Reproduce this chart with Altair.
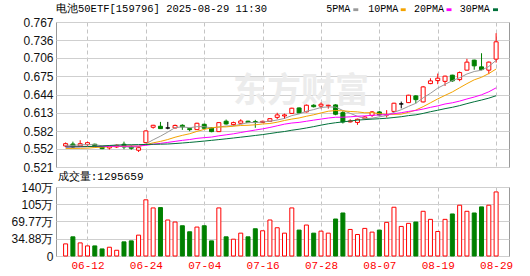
import json
import numpy as np
import pandas as pd
import altair as alt

TITLE = "电池50ETF[159796] 2025-08-29 11:30"
VOL_TITLE = "成交量:1295659"
WATERMARK = "东方财富"

DATES = ["06-09", "06-10", "06-11", "06-12", "06-13", "06-16", "06-17", "06-18", "06-19", "06-20",
         "06-23", "06-24", "06-25", "06-26", "06-27", "06-30", "07-01", "07-02", "07-03", "07-04",
         "07-07", "07-08", "07-09", "07-10", "07-11", "07-14", "07-15", "07-16", "07-17", "07-18",
         "07-21", "07-22", "07-23", "07-24", "07-25", "07-28", "07-29", "07-30", "07-31", "08-01",
         "08-04", "08-05", "08-06", "08-07", "08-08", "08-11", "08-12", "08-13", "08-14", "08-15",
         "08-18", "08-19", "08-20", "08-21", "08-22", "08-25", "08-26", "08-27", "08-28", "08-29"]

OPEN = [0.5567, 0.5600, 0.5567, 0.5589, 0.5596, 0.5550, 0.5533, 0.5550, 0.5596, 0.5550,
        0.5494, 0.5623, 0.5884, 0.5901, 0.5872, 0.5872, 0.5918, 0.5861, 0.5844, 0.5935,
        0.5878, 0.5810, 0.5987, 0.5929, 0.5952, 0.5987, 0.5980, 0.5965, 0.5986, 0.6052,
        0.6076, 0.6119, 0.6212, 0.6145, 0.6258, 0.6243, 0.6246, 0.6263, 0.6132, 0.5975,
        0.5966, 0.6034, 0.6085, 0.6144, 0.6090, 0.6153, 0.6280, 0.6302, 0.6416, 0.6314,
        0.6625, 0.6676, 0.6663, 0.6768, 0.6693, 0.6853, 0.7023, 0.6909, 0.6853, 0.7040]
HIGH = [0.5626, 0.5640, 0.5664, 0.5640, 0.5606, 0.5558, 0.5575, 0.5592, 0.5640, 0.5579,
        0.5562, 0.5830, 0.5925, 0.5975, 0.5975, 0.5930, 0.5935, 0.5878, 0.5960, 0.5945,
        0.5885, 0.5970, 0.6015, 0.5980, 0.6020, 0.5995, 0.6010, 0.5995, 0.6040, 0.6130,
        0.6115, 0.6215, 0.6220, 0.6270, 0.6275, 0.6305, 0.6265, 0.6275, 0.6158, 0.6020,
        0.6030, 0.6075, 0.6160, 0.6160, 0.6175, 0.6300, 0.6320, 0.6435, 0.6430, 0.6585,
        0.6715, 0.6795, 0.6760, 0.6775, 0.6830, 0.7045, 0.7030, 0.7140, 0.7000, 0.7480]
LOW = [0.5550, 0.5530, 0.5558, 0.5572, 0.5547, 0.5513, 0.5507, 0.5533, 0.5511, 0.5503,
       0.5465, 0.5620, 0.5861, 0.5855, 0.5850, 0.5865, 0.5840, 0.5817, 0.5840, 0.5860,
       0.5800, 0.5805, 0.5930, 0.5910, 0.5945, 0.5955, 0.5875, 0.5955, 0.5980, 0.6020,
       0.6025, 0.6110, 0.6120, 0.6135, 0.6220, 0.6200, 0.6200, 0.6088, 0.5948, 0.5965,
       0.5925, 0.6010, 0.6060, 0.6090, 0.6050, 0.6150, 0.6205, 0.6295, 0.6290, 0.6305,
       0.6615, 0.6615, 0.6585, 0.6655, 0.6665, 0.6850, 0.6860, 0.6850, 0.6785, 0.6980]
CLOSE = [0.5606, 0.5550, 0.5606, 0.5623, 0.5555, 0.5521, 0.5567, 0.5579, 0.5550, 0.5528,
         0.5538, 0.5822, 0.5918, 0.5861, 0.5872, 0.5915, 0.5890, 0.5844, 0.5952, 0.5867,
         0.5810, 0.5963, 0.5940, 0.5963, 0.5991, 0.5963, 0.5965, 0.5985, 0.6030, 0.6094,
         0.6094, 0.6207, 0.6127, 0.6258, 0.6233, 0.6275, 0.6258, 0.6105, 0.5975, 0.5991,
         0.6020, 0.6059, 0.6144, 0.6093, 0.6100, 0.6292, 0.6280, 0.6428, 0.6353, 0.6569,
         0.6671, 0.6717, 0.6751, 0.6671, 0.6812, 0.6989, 0.6926, 0.6863, 0.6989, 0.7334]
# volume in 万
VOLUME = [24.5, 38.8, 26.5, 20.4, 20.4, 14.3, 17.7, 11.6, 28.6, 30.6,
          42.2, 113.6, 97.2, 97.9, 72.8, 68.7, 61.2, 49.0, 58.5, 61.2,
          30.6, 97.2, 38.8, 34.0, 46.2, 38.8, 55.1, 51.0, 72.8, 57.1,
          46.2, 97.2, 52.4, 62.6, 46.2, 50.3, 46.2, 74.8, 87.0, 53.7,
          43.5, 55.8, 48.3, 52.4, 68.0, 98.6, 59.8, 66.0, 68.7, 90.4,
          74.1, 49.6, 74.1, 85.0, 102.7, 90.4, 87.0, 99.3, 102.7, 129.5659]

MA5 = [0.5580, 0.5578, 0.5585, 0.5590, 0.5588, 0.5571, 0.5574, 0.5569, 0.5554, 0.5549,
       0.5552, 0.5603, 0.5671, 0.5733, 0.5802, 0.5878, 0.5891, 0.5876, 0.5895, 0.5894,
       0.5873, 0.5887, 0.5906, 0.5909, 0.5933, 0.5964, 0.5964, 0.5973, 0.5987, 0.6007,
       0.6034, 0.6082, 0.6110, 0.6156, 0.6184, 0.6220, 0.6230, 0.6226, 0.6169, 0.6121,
       0.6070, 0.6030, 0.6038, 0.6061, 0.6083, 0.6138, 0.6182, 0.6239, 0.6291, 0.6384,
       0.6460, 0.6548, 0.6612, 0.6676, 0.6724, 0.6788, 0.6830, 0.6852, 0.6916, 0.7020]
MA10 = [0.5525, 0.5525, 0.5527, 0.5530, 0.5540, 0.5548, 0.5553, 0.5558, 0.5563, 0.5569,
        0.5562, 0.5589, 0.5620, 0.5644, 0.5676, 0.5715, 0.5747, 0.5774, 0.5814, 0.5848,
        0.5875, 0.5889, 0.5891, 0.5902, 0.5914, 0.5918, 0.5926, 0.5940, 0.5948, 0.5970,
        0.5999, 0.6023, 0.6042, 0.6071, 0.6096, 0.6127, 0.6156, 0.6168, 0.6163, 0.6152,
        0.6145, 0.6130, 0.6132, 0.6115, 0.6102, 0.6104, 0.6106, 0.6138, 0.6176, 0.6234,
        0.6299, 0.6365, 0.6425, 0.6483, 0.6554, 0.6624, 0.6689, 0.6732, 0.6796, 0.6872]
MA20 = [0.5550, 0.5552, 0.5555, 0.5557, 0.5558, 0.5558, 0.5560, 0.5562, 0.5563, 0.5563,
        0.5565, 0.5578, 0.5596, 0.5611, 0.5627, 0.5645, 0.5662, 0.5676, 0.5696, 0.5708,
        0.5718, 0.5739, 0.5756, 0.5773, 0.5795, 0.5817, 0.5837, 0.5857, 0.5881, 0.5909,
        0.5937, 0.5956, 0.5967, 0.5986, 0.6005, 0.6023, 0.6041, 0.6054, 0.6055, 0.6061,
        0.6072, 0.6077, 0.6087, 0.6093, 0.6099, 0.6115, 0.6131, 0.6153, 0.6169, 0.6193,
        0.6222, 0.6247, 0.6279, 0.6299, 0.6328, 0.6364, 0.6397, 0.6435, 0.6486, 0.6553]
MA30 = [0.5550, 0.5552, 0.5554, 0.5557, 0.5560, 0.5565, 0.5575, 0.5582, 0.5586, 0.5588,
        0.5590, 0.5592, 0.5595, 0.5597, 0.5600, 0.5608, 0.5617, 0.5627, 0.5638, 0.5650,
        0.5662, 0.5675, 0.5688, 0.5702, 0.5716, 0.5730, 0.5745, 0.5760, 0.5778, 0.5796,
        0.5812, 0.5834, 0.5851, 0.5872, 0.5895, 0.5920, 0.5943, 0.5961, 0.5975, 0.5990,
        0.6006, 0.6014, 0.6022, 0.6029, 0.6037, 0.6050, 0.6063, 0.6082, 0.6095, 0.6119,
        0.6148, 0.6173, 0.6200, 0.6223, 0.6251, 0.6285, 0.6317, 0.6346, 0.6378, 0.6419]

X_TICK_DATES = ["06-12", "06-24", "07-04", "07-16", "07-28", "08-07", "08-19", "08-29"]
PRICE_TICKS = [0.521, 0.552, 0.582, 0.613, 0.644, 0.675, 0.706, 0.736, 0.767]
VOL_TICKS = [0, 34.88, 69.77, 104.65, 139.53]
MA_NAMES = ["5PMA", "10PMA", "20PMA", "30PMA"]
MA_COLORS = ["#999999", "#f4a300", "#ff00ff", "#00703a"]

n = len(DATES)
df = pd.DataFrame(dict(i=np.arange(n), date=DATES, open=OPEN, high=HIGH, low=LOW,
                       close=CLOSE, vol=VOLUME, ma5=MA5, ma10=MA10, ma20=MA20, ma30=MA30))
df["dir"] = np.where(df["close"] > df["open"], "up",
                     np.where(df["close"] < df["open"], "down", "flat"))
df["vdir"] = np.where(df["close"] >= df["open"], "up", "down")

W = 453
H_PRICE = 145
H_VOL = 69
FONT_MONO = "Liberation Mono"
FONT_SANS = "Liberation Sans"
GRID = "#cfcfcf"
VGRID = "#c4c4c4"

x_ticks = [DATES.index(d) for d in X_TICK_DATES]
xscale = alt.Scale(domain=[-0.63, 60.08], nice=False, zero=False)
dir_dom = ["up", "down", "flat"]
stroke_scale = alt.Scale(domain=dir_dom, range=["#ff0000", "#008000", "#000000"])
fill_scale = alt.Scale(domain=dir_dom, range=["#ffffff", "#008000", "#000000"])

x_top_axis = alt.Axis(values=x_ticks, labels=False, ticks=False, domain=False,
                      grid=True, gridDash=[4, 3], gridColor=VGRID, gridOpacity=1, title=None)
x_bot_axis = alt.Axis(values=x_ticks, ticks=False, domain=False, grid=True,
                      gridDash=[4, 3], gridColor=VGRID, gridOpacity=1, title=None,
                      labelExpr=json.dumps(DATES) + "[datum.value]",
                      labelFont=FONT_MONO, labelFontSize=11, labelColor="#ff0000",
                      labelPadding=3, labelFlush=False, labelOverlap=False)

yscale = alt.Scale(domain=[0.521, 0.767], nice=False, zero=False)
y_axis = alt.Axis(values=PRICE_TICKS, format=".3f", grid=True, gridColor=GRID, gridOpacity=1,
                  ticks=False, domain=False, labelFont=FONT_SANS, labelFontSize=12,
                  labelColor="#111111", labelPadding=3, labelOverlap=False, title=None)


def X(axis):
    return alt.X("i:Q", scale=xscale, axis=axis)


def YP(field):
    return alt.Y(f"{field}:Q", scale=yscale, axis=y_axis)


def text_layer(txt, x, y, **kw):
    return alt.Chart(pd.DataFrame({"t": [txt]})).mark_text(
        align="left", baseline="middle", **kw).encode(
        x=alt.value(x), y=alt.value(y), text="t:N")


base = alt.Chart(df)

watermark = alt.Chart(pd.DataFrame({"t": [WATERMARK]})).mark_text(
    align="center", baseline="middle", font="Noto Sans CJK SC", fontSize=34,
    fontWeight="bold", color="#ececec").encode(x=alt.value(245), y=alt.value(70), text="t:N")

wick = base.mark_rule(strokeWidth=1).encode(
    x=X(x_top_axis), y=YP("low"), y2="high:Q",
    stroke=alt.Stroke("dir:N", scale=stroke_scale, legend=None))
body = base.mark_bar(size=4, strokeWidth=1).encode(
    x=X(x_top_axis), y=YP("open"), y2="close:Q",
    fill=alt.Fill("dir:N", scale=fill_scale, legend=None),
    stroke=alt.Stroke("dir:N", scale=stroke_scale, legend=None))

ma_layers = []
for col, c in zip(["ma5", "ma10", "ma20", "ma30"], MA_COLORS):
    ma_layers.append(base.mark_line(strokeWidth=1, color=c).encode(x=X(x_top_axis), y=YP(col)))

header = [text_layer(TITLE, 0, -12.7, font=FONT_MONO, fontSize=10.5, color="#000000")]
leg_text_x = [270.2, 312.2, 358.0, 403.7]
leg_sq_x = [297.3, 344.7, 390.5, 437.0]
for name, c, tx, sx in zip(MA_NAMES, MA_COLORS, leg_text_x, leg_sq_x):
    header.append(text_layer(name, tx, -12.7, font=FONT_MONO, fontSize=10, color="#000000"))
    header.append(alt.Chart(pd.DataFrame({"t": [name]})).mark_rect(color=c).encode(
        x=alt.value(sx), x2=alt.value(sx + 5), y=alt.value(-13.7), y2=alt.value(-10.9)))

top = alt.layer(watermark, wick, body, *ma_layers, *header).properties(
    width=W, height=H_PRICE)

vscale = alt.Scale(domain=[0, 139.53], nice=False)
v_axis = alt.Axis(values=VOL_TICKS, grid=True, gridColor=GRID, gridOpacity=1, ticks=False,
                  domain=False, labelFont=FONT_SANS, labelFontSize=12, labelColor="#111111",
                  labelPadding=3, labelOverlap=False, title=None,
                  labelExpr="datum.value == 0 ? '0' : (datum.value > 100 ? format(datum.value, '.0f') : format(datum.value, '.2f')) + '万'")
vol = base.mark_bar(size=4, strokeWidth=1).encode(
    x=X(x_bot_axis), y=alt.Y("vol:Q", scale=vscale, axis=v_axis),
    fill=alt.Fill("vdir:N", scale=fill_scale, legend=None),
    stroke=alt.Stroke("vdir:N", scale=stroke_scale, legend=None))
vol_title = text_layer(VOL_TITLE, 1.7, -10, font=FONT_MONO, fontSize=11, color="#000000")
bottom = alt.layer(vol, vol_title).properties(width=W, height=H_VOL)

chart = alt.vconcat(top, bottom, spacing=20, bounds="flush").properties(
    padding={"left": 10, "top": 3, "right": 0, "bottom": 0},
    background="white").configure_view(stroke="#999999", strokeWidth=1)

chart.save("out.html", embed_options={"renderer": "svg", "actions": False})
